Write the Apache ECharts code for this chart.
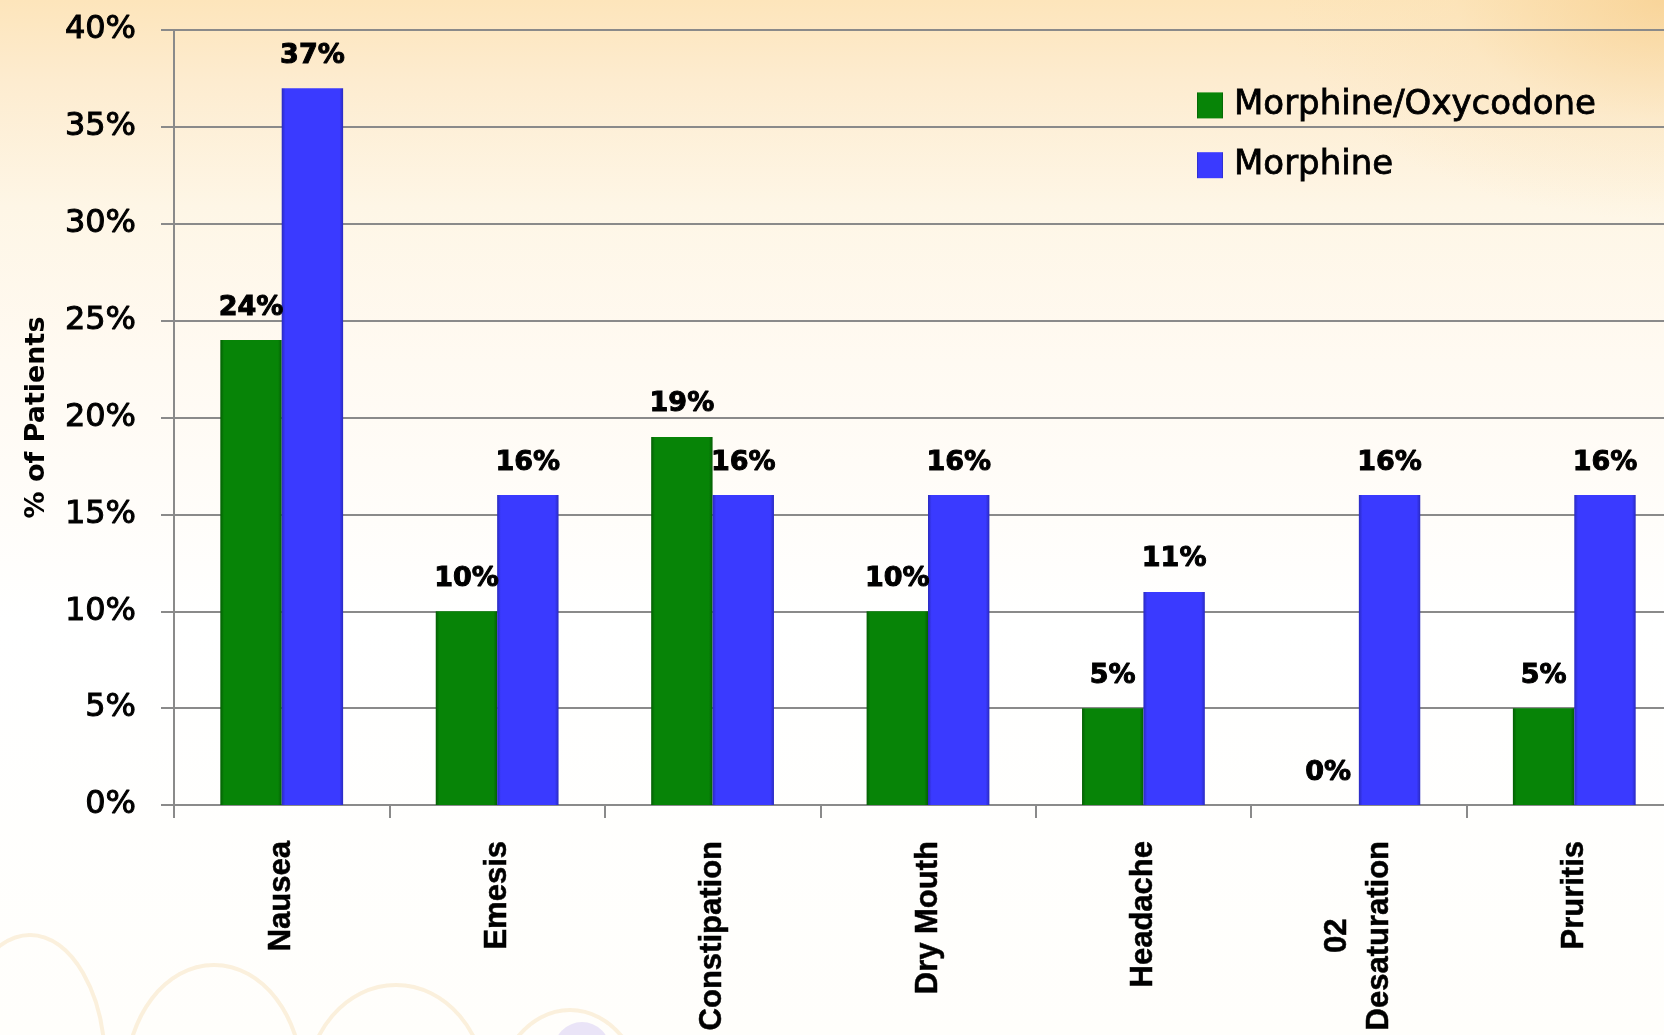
<!DOCTYPE html>
<html>
<head>
<meta charset="utf-8">
<script src="https://cdn.jsdelivr.net/npm/echarts@6/dist/echarts.min.js"></script>
<style>
  html, body { margin: 0; padding: 0; width: 1664px; height: 1035px; overflow: hidden; }
  #chart {
    width: 1664px; height: 1035px;
    background:
      radial-gradient(ellipse 380px 220px at 100% 0%, rgba(247,206,140,0.7) 0%, rgba(250,224,178,0.3) 55%, rgba(255,240,215,0) 100%),
      linear-gradient(to bottom, #fde5bb 0%, #fdecd0 8%, #fef6e6 20%, #fffaf2 35%, #ffffff 60%, #fffefb 100%);
  }
</style>
</head>
<body>
<div id="chart"></div>
<script>
const categories = ['Nausea', 'Emesis', 'Constipation', 'Dry Mouth', 'Headache', '02\nDesaturation', 'Pruritis'];
const morphineOxycodone = [24, 10, 19, 10, 5, 0, 5];
const morphine = [37, 16, 16, 16, 11, 16, 16];
const seriesNames = ['Morphine/Oxycodone', 'Morphine'];
const yMin = 0, yMax = 40, yStep = 5;

const chart = echarts.init(document.getElementById('chart'), null, { renderer: 'canvas' });

const labelStyle = {
  show: true,
  position: 'top',
  distance: 19,
  formatter: '{c}%',
  color: '#000',
  fontFamily: 'DejaVu Sans',
  fontWeight: 'bold',
  fontSize: 27,
  textBorderColor: '#000',
  textBorderWidth: 1
};

function barGradient(edge, body) {
  return {
    type: 'linear', x: 0, y: 0, x2: 1, y2: 0,
    colorStops: [
      { offset: 0, color: edge },
      { offset: 0.06, color: body },
      { offset: 0.94, color: body },
      { offset: 1, color: edge }
    ]
  };
}

const deco = 'rgba(242,205,140,0.28)';

chart.setOption({
  backgroundColor: 'transparent',
  animation: false,
  graphic: [
    { type: 'ellipse', z: -10, silent: true, shape: { cx: 30, cy: 1065, rx: 75, ry: 130 }, style: { fill: 'none', stroke: deco, lineWidth: 4 } },
    { type: 'ellipse', z: -10, silent: true, shape: { cx: 214, cy: 1080, rx: 88, ry: 115 }, style: { fill: 'none', stroke: deco, lineWidth: 4 } },
    { type: 'ellipse', z: -10, silent: true, shape: { cx: 396, cy: 1090, rx: 90, ry: 105 }, style: { fill: 'none', stroke: deco, lineWidth: 4 } },
    { type: 'ellipse', z: -10, silent: true, shape: { cx: 570, cy: 1105, rx: 75, ry: 95 }, style: { fill: 'none', stroke: deco, lineWidth: 4 } },
    { type: 'circle', z: -10, silent: true, shape: { cx: 582, cy: 1050, r: 28 }, style: { fill: 'rgba(170,150,235,0.25)' } }
  ],
  grid: {
    left: 174, top: 30, bottom: 230, right: -18,
    containLabel: false,
    outerBoundsMode: 'none'
  },
  legend: {
    orient: 'vertical',
    left: 1197,
    top: 88,
    padding: 0,
    itemWidth: 26,
    itemHeight: 26,
    itemGap: 25,
    icon: 'rect',
    textStyle: {
      color: '#000',
      fontFamily: 'DejaVu Sans',
      fontSize: 34,
      padding: [0, 0, 0, 6],
      textBorderColor: '#000',
      textBorderWidth: 0.8
    },
    data: seriesNames
  },
  xAxis: {
    type: 'category',
    data: categories,
    axisLine: { show: true, lineStyle: { color: '#8a8a8a', width: 2 } },
    axisTick: { show: true, length: 13, alignWithLabel: false, lineStyle: { color: '#8a8a8a', width: 2 } },
    axisLabel: {
      interval: 0,
      rotate: 90,
      margin: 36,
      color: '#000',
      fontFamily: 'Liberation Sans',
      fontWeight: 'bold',
      fontSize: 31,
      formatter: function (v) {
        return v.split('\n').map(function (s) { return '{c|' + s + '}'; }).join('\n');
      },
      rich: {
        c: {
          align: 'center',
          color: '#000',
          fontFamily: 'Liberation Sans',
          fontWeight: 'bold',
          fontSize: 31,
          lineHeight: 42,
          textBorderColor: '#000',
          textBorderWidth: 0.5
        }
      }
    }
  },
  yAxis: {
    type: 'value',
    min: yMin,
    max: yMax,
    interval: yStep,
    name: '% of Patients',
    nameLocation: 'middle',
    nameRotate: 90,
    nameGap: 124,
    nameTextStyle: {
      color: '#000',
      fontFamily: 'DejaVu Sans',
      fontWeight: 'bold',
      fontSize: 27
    },
    axisLine: { show: true, lineStyle: { color: '#8a8a8a', width: 2 } },
    axisTick: { show: true, length: 13, lineStyle: { color: '#8a8a8a', width: 2 } },
    splitLine: { show: true, lineStyle: { color: '#8a8a8a', width: 2 } },
    axisLabel: {
      margin: 38,
      color: '#000',
      fontFamily: 'DejaVu Sans',
      fontSize: 32,
      textBorderColor: '#000',
      textBorderWidth: 1,
      formatter: '{value}%'
    }
  },
  series: [
    {
      name: seriesNames[0],
      type: 'bar',
      data: morphineOxycodone,
      barGap: '0%',
      barCategoryGap: '43%',
      itemStyle: { color: barGradient('#045e04', '#078407'), borderWidth: 0 },
      label: labelStyle
    },
    {
      name: seriesNames[1],
      type: 'bar',
      data: morphine,
      barGap: '0%',
      barCategoryGap: '43%',
      itemStyle: { color: barGradient('#2a2ac0', '#3a3aff'), borderWidth: 0 },
      label: labelStyle
    }
  ]
});
</script>
</body>
</html>
